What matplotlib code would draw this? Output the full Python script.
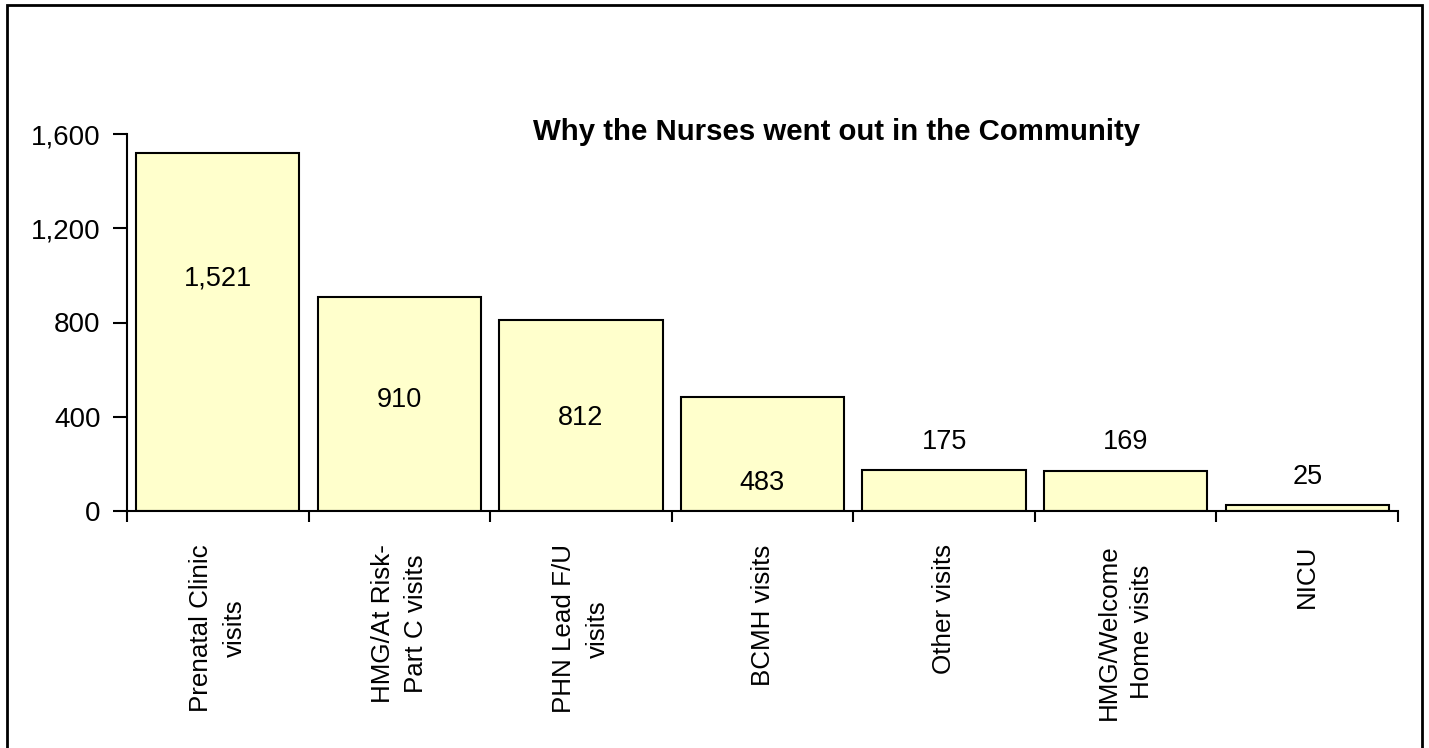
import matplotlib.pyplot as plt
from matplotlib.patches import Rectangle
from matplotlib.ticker import FuncFormatter

plt.rcParams['font.family'] = ['Liberation Sans', 'DejaVu Sans']

# data
categories = ['Prenatal Clinic\nvisits', 'HMG/At Risk-\nPart C visits', 'PHN Lead F/U\nvisits',
              'BCMH visits', 'Other visits', 'HMG/Welcome\nHome visits', 'NICU']
visits = [1521, 910, 812, 483, 175, 169, 25]
# where each value label sits (data units), as in the original
label_y = [985, 471, 395, 119, 292, 292, 144]

fig = plt.figure(figsize=(14.29, 7.48), dpi=100)
ax = fig.add_axes([127 / 1429, 1 - 511 / 748, (1398 - 127) / 1429, (511 - 134) / 748])

x = range(len(categories))
ax.bar(x, visits, width=0.9, color='#FFFFCC', edgecolor='black', linewidth=1.5)

for i, v in enumerate(visits):
    ax.text(i, label_y[i], f'{v:,}', ha='center', va='center', fontsize=19.5)

ax.set_xlim(-0.5, len(categories) - 0.5)
ax.set_ylim(0, 1600)
ax.set_yticks([0, 400, 800, 1200, 1600])
ax.yaxis.set_major_formatter(FuncFormatter(lambda v, p: f'{v:,.0f}'))
ax.tick_params(axis='y', labelsize=20, length=10, width=1.5, pad=9)

ax.set_xticks(list(x))
ax.set_xticklabels(categories, rotation=90, ha='center', va='top', multialignment='center',
                   fontsize=18.7, linespacing=1.5)
ax.tick_params(axis='x', which='major', length=0, pad=24)
ax.set_xticks([i - 0.5 for i in range(len(categories) + 1)], minor=True)
ax.tick_params(axis='x', which='minor', length=8, width=1.5)

for s in ['top', 'right']:
    ax.spines[s].set_visible(False)
for s in ['left', 'bottom']:
    ax.spines[s].set_linewidth(1.5)

fig.text(837 / 1429, 1 - 132 / 748, 'Why the Nurses went out in the Community',
         ha='center', va='center', fontsize=21.2, fontweight='bold')

# outer frame
fig.patches.append(Rectangle((7 / 1429, -0.01), (1422 - 7) / 1429, 1.01 - 5 / 748,
                             transform=fig.transFigure, fill=False, edgecolor='black', linewidth=2))

fig.savefig('out.png', dpi=100)
